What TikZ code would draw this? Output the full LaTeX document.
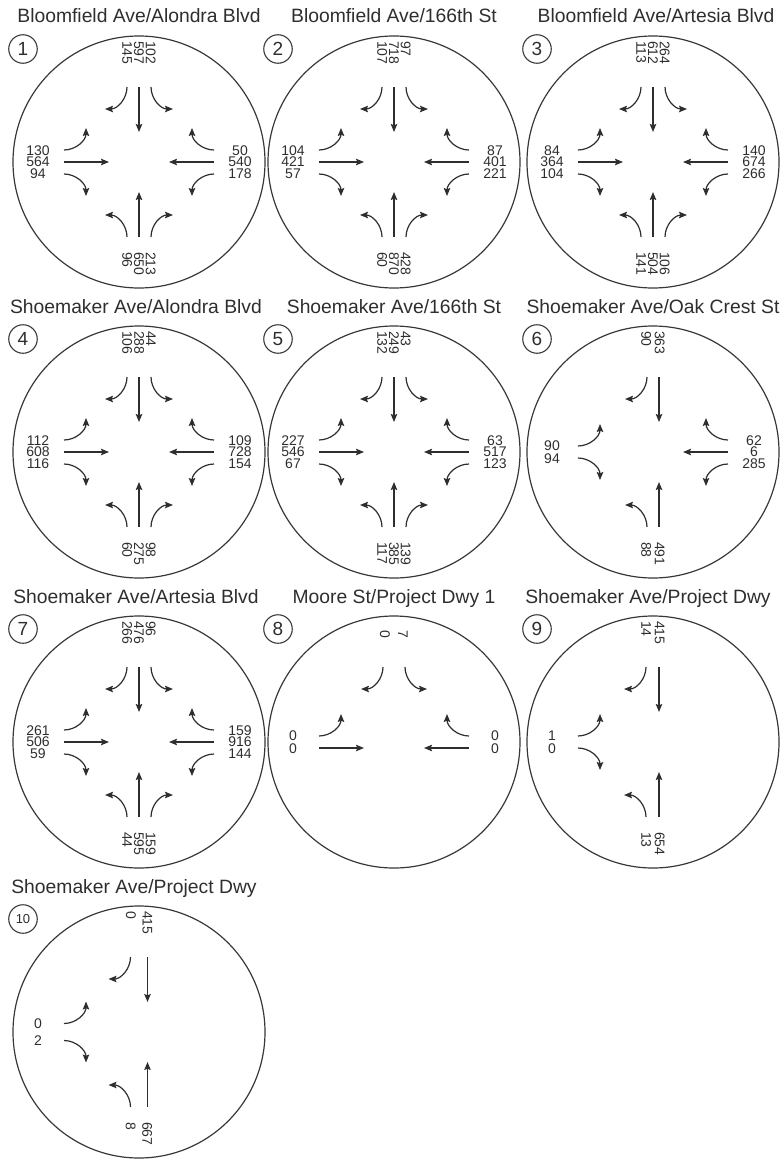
\documentclass[tikz,border=0pt]{standalone}
\usepackage{fontspec}
\setmainfont{Liberation Sans}
\usetikzlibrary{arrows.meta}
\newcommand\thru[1]{\draw[mv] (#1,75) -- (#1,30);}
\newcommand\curveR[1]{\draw[mv] (#1,75) arc[start angle=180,end angle=270,radius=22];}
\newcommand\curveL[1]{\draw[mv] (#1,75) arc[start angle=0,end angle=-90,radius=22];}
\newcommand\fullapp[1]{\begin{scope}[rotate=#1]\thru{0}\curveR{12}\curveL{-12}\end{scope}}
\newcommand\labW[3][lbl]{\node[#1,align=center] (#2W) at (-101,0) {#3};}
\newcommand\labE[3][lbl]{\node[#1,align=center] (#2E) at (101,0) {#3};}
\newcommand\labN[3][lbl]{\node[#1,align=left,rotate=-90,anchor=west] (#2N) at (0,121) {#3};}
\newcommand\labS[3][lbl]{\node[#1,align=left,rotate=-90,anchor=west] (#2S) at (0,-90) {#3};}
\newcommand\isec[3]{%
  \draw[ring] (0,0) circle[radius=126];
  \node[badge] (b#1) at (-116,113) {#1};
  \node[ttl] (t#1) at (#2,139) {#3};}
\begin{document}
\begin{tikzpicture}[x=1pt,y=1pt,
  ring/.style={draw=black!78, line width=1.2pt},
  mv/.style={draw=black!82, line width=1.2pt, -{Stealth[length=8pt,width=6.5pt,inset=1.3pt]}},
  lbl/.style={inner sep=0pt, font=\fontsize{14}{11.8}\selectfont, text=black!82},
  lbltwo/.style={lbl, font=\fontsize{14}{13.5}\selectfont},
  lblwide/.style={lbl, font=\fontsize{14}{16.5}\selectfont},
  ttl/.style={inner sep=0pt, anchor=base, font=\fontsize{19.3}{22}\selectfont, text=black!82},
  badge/.style={circle, draw=black!78, line width=1.1pt, minimum size=28.5pt, inner sep=0pt, font=\fontsize{19}{19}\selectfont, text=black!82}
]
\useasboundingbox (0,0) rectangle (783,-1159);

% 1
\begin{scope}[shift={(139,-162)}]
  \isec{1}{0}{Bloomfield Ave/Alondra Blvd}
  \fullapp{0}\fullapp{90}\fullapp{180}\fullapp{-90}
  \labN{c1}{102\\597\\145}\labS{c1}{213\\650\\96}
  \labW{c1}{130\\564\\94}\labE{c1}{50\\540\\178}
\end{scope}
% 2
\begin{scope}[shift={(394,-162)}]
  \isec{2}{0}{Bloomfield Ave/166th St}
  \fullapp{0}\fullapp{90}\fullapp{180}\fullapp{-90}
  \labN{c2}{97\\718\\107}\labS{c2}{428\\870\\60}
  \labW{c2}{104\\421\\57}\labE{c2}{87\\401\\221}
\end{scope}
% 3
\begin{scope}[shift={(653,-162)}]
  \isec{3}{3}{Bloomfield Ave/Artesia Blvd}
  \fullapp{0}\fullapp{90}\fullapp{180}\fullapp{-90}
  \labN{c3}{264\\612\\113}\labS{c3}{106\\504\\141}
  \labW{c3}{84\\364\\104}\labE{c3}{140\\674\\266}
\end{scope}
% 4
\begin{scope}[shift={(139,-452)}]
  \isec{4}{-3}{Shoemaker Ave/Alondra Blvd}
  \fullapp{0}\fullapp{90}\fullapp{180}\fullapp{-90}
  \labN{c4}{44\\288\\106}\labS{c4}{98\\275\\60}
  \labW{c4}{112\\608\\116}\labE{c4}{109\\728\\154}
\end{scope}
% 5
\begin{scope}[shift={(394,-452)}]
  \isec{5}{0}{Shoemaker Ave/166th St}
  \fullapp{0}\fullapp{90}\fullapp{180}\fullapp{-90}
  \labN{c5}{43\\249\\132}\labS{c5}{139\\385\\117}
  \labW{c5}{227\\546\\67}\labE{c5}{63\\517\\123}
\end{scope}
% 6
\begin{scope}[shift={(653,-452)}]
  \isec{6}{0}{Shoemaker Ave/Oak Crest St}
  \begin{scope}[rotate=0]\thru{6}\curveL{-6}\end{scope}
  \begin{scope}[rotate=180]\thru{-6}\curveR{6}\end{scope}
  \begin{scope}[rotate=90]\curveR{6}\curveL{-6}\end{scope}
  \fullapp{-90}
  \labN[lbltwo]{c6}{363\\90}\labS[lbltwo]{c6}{491\\88}
  \labW[lbltwo]{c6}{90\\94}\labE{c6}{62\\6\\285}
\end{scope}
% 7
\begin{scope}[shift={(139,-742)}]
  \isec{7}{-3}{Shoemaker Ave/Artesia Blvd}
  \fullapp{0}\fullapp{90}\fullapp{180}\fullapp{-90}
  \labN{c7}{96\\476\\266}\labS{c7}{159\\595\\44}
  \labW{c7}{261\\506\\59}\labE{c7}{159\\916\\144}
\end{scope}
% 8
\begin{scope}[shift={(394,-742)}]
  \isec{8}{0}{Moore St/Project Dwy 1}
  \begin{scope}[rotate=0]\curveR{11}\curveL{-11}\end{scope}
  \begin{scope}[rotate=90]\curveR{6}\thru{-6}\end{scope}
  \begin{scope}[rotate=-90]\curveL{-6}\thru{6}\end{scope}
  \node[lbl,rotate=-90,anchor=west] (c8N1) at (9,112) {7};
  \node[lbl,rotate=-90,anchor=west] (c8N2) at (-9,112) {0};
  \labW[lbltwo]{c8}{0\\0}\labE[lbltwo]{c8}{0\\0}
\end{scope}
% 9
\begin{scope}[shift={(653,-742)}]
  \isec{9}{-5}{Shoemaker Ave/Project Dwy}
  \begin{scope}[rotate=0]\thru{6}\curveL{-7}\end{scope}
  \begin{scope}[rotate=90]\curveR{6}\curveL{-6}\end{scope}
  \begin{scope}[rotate=180]\thru{-6}\curveR{7}\end{scope}
  \labN[lbltwo]{c9}{415\\14}\labS[lbltwo]{c9}{654\\13}
  \labW[lbltwo]{c9}{1\\0}
\end{scope}
% 10
\begin{scope}[shift={(139,-1032)}]
  \draw[ring] (0,0) circle[radius=126];
  \node[badge, font=\fontsize{13}{13}\selectfont] (b10) at (-116,113) {10};
  \node[ttl] (t10) at (-5,139) {Shoemaker Ave/Project Dwy};
  \begin{scope}[rotate=0]\thru{8.5}\curveL{-8.5}\end{scope}
  \begin{scope}[rotate=90]\curveR{8.5}\curveL{-8.5}\end{scope}
  \begin{scope}[rotate=180]\thru{-8.5}\curveR{8.5}\end{scope}
  \labN[lblwide]{c10}{415\\0}\labS[lblwide]{c10}{667\\8}
  \labW[lblwide]{c10}{0\\2}
\end{scope}
\end{tikzpicture}
\end{document}
